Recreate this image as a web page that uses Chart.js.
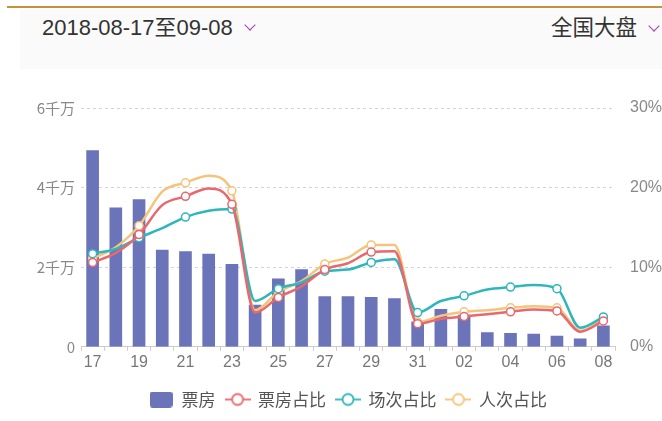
<!DOCTYPE html>
<html>
<head>
<meta charset="utf-8">
<script src="https://cdn.jsdelivr.net/npm/chart.js@4/dist/chart.umd.min.js"></script>
<style>
  body { margin: 0; background: #fff; font-family: "Liberation Sans", "Noto Sans CJK SC", sans-serif; }
  #wrap { position: relative; width: 662px; height: 421px; overflow: hidden; }
  #topline { position: absolute; left: 7px; top: 6px; width: 655px; height: 2px; background: #c4913f; }
  #header { position: absolute; left: 20px; top: 9px; width: 642px; height: 60px; background: #fafafa; }
  .htext { position: absolute; top: 6px; font-size: 22px; color: #333; line-height: 26px; }
  .chev { position: absolute; width: 7px; height: 7px; border-right: 1.6px solid #a43bb5; border-bottom: 1.6px solid #a43bb5; transform: rotate(45deg); }
  #chartBox { position: absolute; left: 0; top: 80px; width: 662px; height: 341px; }
</style>
</head>
<body>
<div id="wrap">
  <div id="topline"></div>
  <div id="header">
    <div class="htext" style="left:22px;">2018-08-17至09-08</div>
    <div class="chev" style="left:226px; top:12px;"></div>
    <div class="htext" style="left:531px; font-family:'Noto Sans CJK SC'; font-size:21.5px; top:4px;">全国大盘</div>
    <div class="chev" style="left:630px; top:13px;"></div>
  </div>
  <div id="chartBox"><canvas id="mixchart"></canvas></div>
</div>
<script>
// dates 08-17 .. 09-08
var days = ["17","18","19","20","21","22","23","24","25","26","27","28","29","30","31",
            "01","02","03","04","05","06","07","08"];

// box office, in 万 (ten thousands)
var boxOffice = [4930, 3490, 3700, 2430, 2390, 2330, 2070, 1050, 1710, 1940, 1260, 1260,
                 1240, 1210, 630, 940, 800, 360, 340, 320, 270, 200, 530];

// shares in %
var boxShare   = [10.6, 11.8, 14.1, 17.8, 18.9, 19.9, 17.9, 4.3, 6.2, 7.6, 9.7, 10.5,
                  11.9, 12.0, 2.9, 3.5, 3.8, 4.1, 4.4, 4.7, 4.5, 1.9, 3.25];
var showShare  = [11.7, 12.3, 13.7, 14.9, 16.3, 17.1, 17.3, 5.75, 7.3, 8.1, 9.5, 9.7,
                  10.6, 11.0, 4.3, 5.75, 6.4, 7.2, 7.5, 7.75, 7.3, 2.4, 3.75];
var peopleShare = [11.1, 12.5, 15.2, 19.5, 20.6, 21.5, 19.6, 4.6, 6.9, 8.25, 10.4, 11.2,
                   12.8, 12.8, 3.1, 3.9, 4.4, 4.6, 4.9, 5.1, 4.9, 2.0, 3.45];

var barColor = '#6b73b9';
var redColor = '#e8686c';
var tealColor = '#2fb6bd';
var yellowColor = '#f5c37c';

//points only on every other day (the labelled ones)
var dotRadius = days.map(function (d, i) { return i % 2 == 0 ? 4 : 0; });

function lineIcon(color) {
    var c = document.createElement('canvas');
    c.width = 26; c.height = 16;
    var ctx = c.getContext('2d');
    ctx.strokeStyle = color;
    ctx.lineWidth = 1.8;
    ctx.beginPath(); ctx.moveTo(0, 8); ctx.lineTo(26, 8); ctx.stroke();
    ctx.fillStyle = '#fff';
    ctx.beginPath(); ctx.arc(13, 8, 5.5, 0, Math.PI * 2); ctx.fill(); ctx.stroke();
    return c;
}
function boxIcon(color) {
    var c = document.createElement('canvas');
    c.width = 23; c.height = 16;
    var ctx = c.getContext('2d');
    ctx.fillStyle = color;
    ctx.beginPath(); ctx.roundRect(0, 0, 23, 16, 3); ctx.fill();
    return c;
}
var icons = [boxIcon(barColor), lineIcon(redColor), lineIcon(tealColor), lineIcon(yellowColor)];

function lineSet(label, values, color) {
    return {
        type: 'line',
        label: label,
        data: values,
        yAxisID: 'yPct',
        borderColor: color,
        backgroundColor: '#fff',
        borderWidth: 2.5,
        pointRadius: dotRadius,
        pointBorderWidth: 1.5,
        pointBackgroundColor: '#fff',
        pointBorderColor: color,
        cubicInterpolationMode: 'monotone',
        order: 1
    };
}

var gridStyle = { color: '#d4d4d4', lineWidth: 1, drawTicks: false };

new Chart("mixchart", {
    data: {
        labels: days,
        datasets: [
            {
                type: 'bar',
                label: '票房',
                data: boxOffice,
                yAxisID: 'yBox',
                backgroundColor: barColor,
                barThickness: 12,
                order: 10
            },
            lineSet('票房占比', boxShare, redColor),
            lineSet('场次占比', showShare, tealColor),
            lineSet('人次占比', peopleShare, yellowColor)
        ]
    },
    options: {
        responsive: true,
        maintainAspectRatio: false,
        animation: false,
        // left padding also pushes the legend centre right, like the original
        layout: { padding: { top: 28, left: 34, right: 0, bottom: 3 } },
        plugins: {
            tooltip: { enabled: false },
            legend: {
                position: 'bottom',
                labels: {
                    usePointStyle: true,
                    pointStyleWidth: 24,
                    padding: 10,
                    color: '#555',
                    font: { size: 17, family: "'Noto Sans CJK SC'" },
                    sort: function (a, b) { return a.datasetIndex - b.datasetIndex; },
                    generateLabels: function (chart) {
                        var items = Chart.defaults.plugins.legend.labels.generateLabels(chart);
                        items.forEach(function (it) { it.pointStyle = icons[it.datasetIndex]; });
                        return items;
                    }
                }
            }
        },
        scales: {
            x: {
                grid: { display: true, drawOnChartArea: false, color: '#ccc', tickLength: 4, offset: true },
                border: { display: true, color: '#ccc', dash: [3, 3] },
                ticks: {
                    autoSkip: false,
                    maxRotation: 0,
                    padding: 2,
                    color: '#777',
                    font: { size: 16, family: "'Liberation Sans'" },
                    callback: function (v, i) { return i % 2 == 0 ? days[i] : ''; }
                },
                afterFit: function (scale) { scale.height += 7; }
            },
            yBox: {
                position: 'left',
                min: 0,
                max: 6000,
                grid: gridStyle,
                border: { display: false, dash: [3, 3] },
                ticks: {
                    stepSize: 2000,
                    padding: 6,
                    color: '#888',
                    font: { size: 15, family: "'Noto Sans CJK SC'" },
                    callback: function (v) { return v == 0 ? '0' : (v / 1000) + '千万'; }
                },
                afterFit: function (scale) { scale.width = 47; }
            },
            yPct: {
                position: 'right',
                min: 0,
                max: 30,
                grid: { display: false },
                border: { display: false },
                ticks: {
                    stepSize: 10,
                    padding: 7,
                    color: '#888',
                    font: { size: 16, family: "'Liberation Sans'" },
                    callback: function (v) { return v + '%'; }
                },
                afterFit: function (scale) { scale.width = 47; }
            }
        }
    }
});
</script>
</body>
</html>
